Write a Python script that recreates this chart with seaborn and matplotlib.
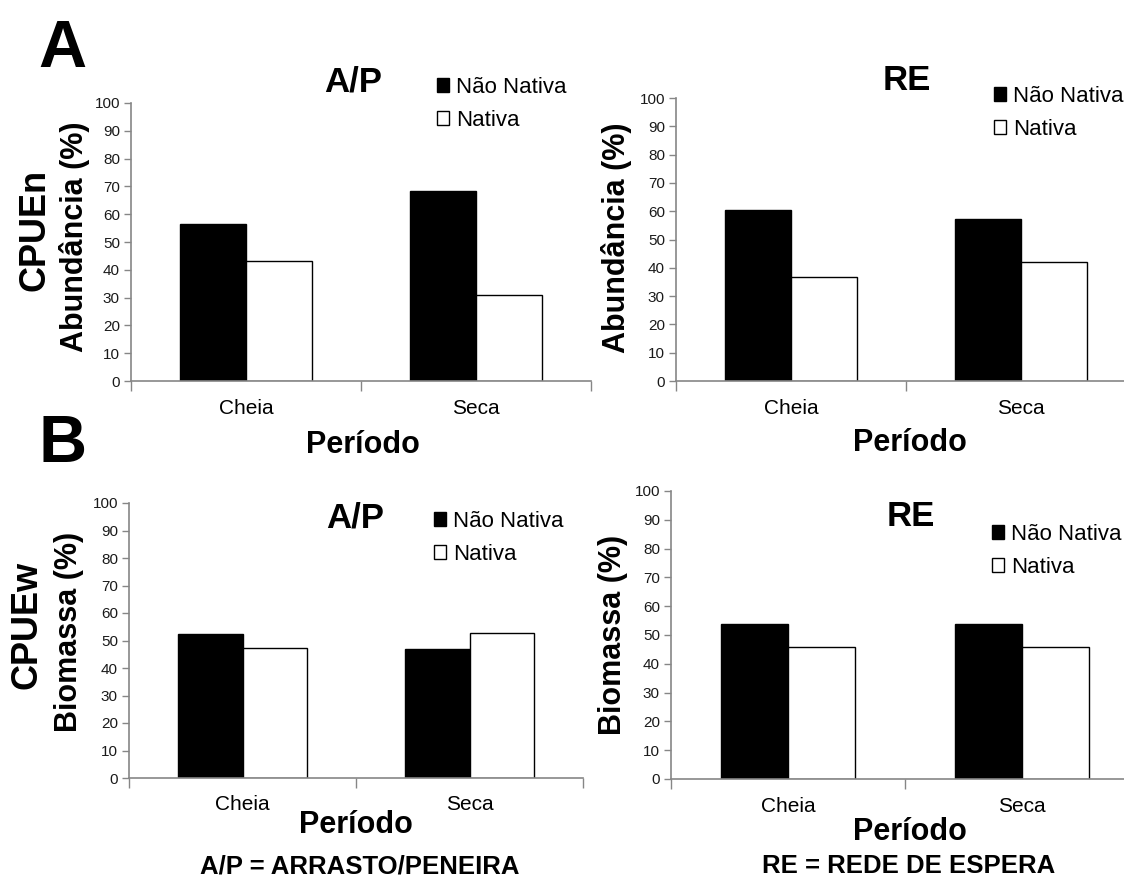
import numpy as np
import pandas as pd
import matplotlib.pyplot as plt
from matplotlib.ticker import FixedLocator
import seaborn as sns

sns.set_theme(style="white")
plt.rcParams['font.family'] = ['Liberation Sans', 'DejaVu Sans']
plt.rcParams['text.color'] = 'black'

periodos = ["Cheia", "Seca"]
grupos = ["Não Nativa", "Nativa"]

# abundancia (CPUEn), %
ap_n_nao_nativa = [56.4, 68.5]
ap_n_nativa = [43.0, 31.1]
re_n_nao_nativa = [60.3, 57.4]
re_n_nativa = [36.7, 42.2]

# biomassa (CPUEw), %
ap_w_nao_nativa = [52.5, 47.0]
ap_w_nativa = [47.4, 52.7]
re_w_nao_nativa = [53.9, 53.9]
re_w_nativa = [46.0, 46.0]


def make_df(nao_nativa, nativa):
    rows = []
    for p, a, b in zip(periodos, nao_nativa, nativa):
        rows.append((p, grupos[0], a))
        rows.append((p, grupos[1], b))
    return pd.DataFrame(rows, columns=["Periodo", "Grupo", "valor"])


W, H = 1124, 883
fig = plt.figure(figsize=(W / 100, H / 100), dpi=100)


def px(x0, y0, x1, y1):
    # pixel box -> figure fraction [left, bottom, width, height]
    return [x0 / W, 1 - y1 / H, (x1 - x0) / W, (y1 - y0) / H]


def ftext(x, y, s, **kw):
    fig.text(x / W, 1 - y / H, s, ha="center", va="center", **kw)


def panel(box, df, title, title_xy, leg_xy, ylabs, xlab_xy, cat_y):
    ax = fig.add_axes(px(*box))
    sns.barplot(data=df, x="Periodo", y="valor", hue="Grupo", hue_order=grupos,
                palette=["black", "white"], edgecolor="black", linewidth=1,
                width=0.57, errorbar=None, ax=ax)
    ax.set_xlim(-0.5, 1.5)
    ax.set_ylim(0, 100)
    ax.set_yticks(np.arange(0, 101, 10))
    ax.set_xticks([0, 1])
    ax.set_xticklabels([])
    ax.xaxis.set_minor_locator(FixedLocator([-0.5, 0.5, 1.5]))
    ax.tick_params(axis="x", which="major", bottom=True, length=0)
    ax.tick_params(axis="x", which="minor", bottom=True, length=7, width=1,
                   color="#868686", direction="out")
    ax.tick_params(axis="y", left=True, length=5, width=1, color="#868686",
                   direction="out", labelsize=11, labelcolor="#1a1a1a", pad=3)
    for s in ["top", "right"]:
        ax.spines[s].set_visible(False)
    for s in ["left", "bottom"]:
        ax.spines[s].set_color("#868686")
        ax.spines[s].set_linewidth(1.2)
    ax.set_xlabel("")
    ax.set_ylabel("")
    ax.get_legend().remove()
    # category labels
    for i, p in enumerate(periodos):
        xd = ax.transData.transform((i, 0))[0]
        ftext(xd, cat_y, p, fontsize=15)
    ftext(xlab_xy[0], xlab_xy[1], "Período", fontsize=22, fontweight="bold")
    ftext(title_xy[0], title_xy[1], title, fontsize=25, fontweight="bold")
    for lab, lx, ly, fs in ylabs:
        ftext(lx, ly, lab, rotation=90, fontsize=fs, fontweight="bold")
    handles, labels = ax.get_legend_handles_labels()
    ax.legend(handles, labels, loc="upper left",
              bbox_to_anchor=(leg_xy[0] / W, 1 - leg_xy[1] / H),
              bbox_transform=fig.transFigure, frameon=False, fontsize=16,
              handlelength=0.55, handleheight=0.6, handletextpad=0.3,
              labelspacing=0.53, borderpad=0, borderaxespad=0)
    return ax


panel((131, 103, 591, 381), make_df(ap_n_nao_nativa, ap_n_nativa), "A/P", (353, 82),
      (437, 77), [("CPUEn", 35, 230, 26), ("Abundância (%)", 75, 237, 22)],
      (363, 445), 408)
panel((676, 98, 1136, 381), make_df(re_n_nao_nativa, re_n_nativa), "RE", (907, 81),
      (994, 86), [("Abundância (%)", 616, 238, 22)], (910, 443), 409)
panel((129, 503, 583, 778), make_df(ap_w_nao_nativa, ap_w_nativa), "A/P", (355, 518),
      (434, 511), [("CPUEw", 27, 625, 26), ("Biomassa (%)", 69, 632, 22)],
      (356, 825), 805)
panel((671, 491, 1139, 779), make_df(re_w_nao_nativa, re_w_nativa), "RE", (911, 517),
      (992, 524), [("Biomassa (%)", 613, 635, 22)], (910, 832), 807)

ftext(62, 50, "A", fontsize=48, fontweight="bold")
ftext(63, 445, "B", fontsize=48, fontweight="bold")
ftext(360, 866, "A/P = ARRASTO/PENEIRA", fontsize=18.5, fontweight="bold")
ftext(909, 866, "RE = REDE DE ESPERA", fontsize=18.5, fontweight="bold")

fig.savefig("out.png", dpi=100)
